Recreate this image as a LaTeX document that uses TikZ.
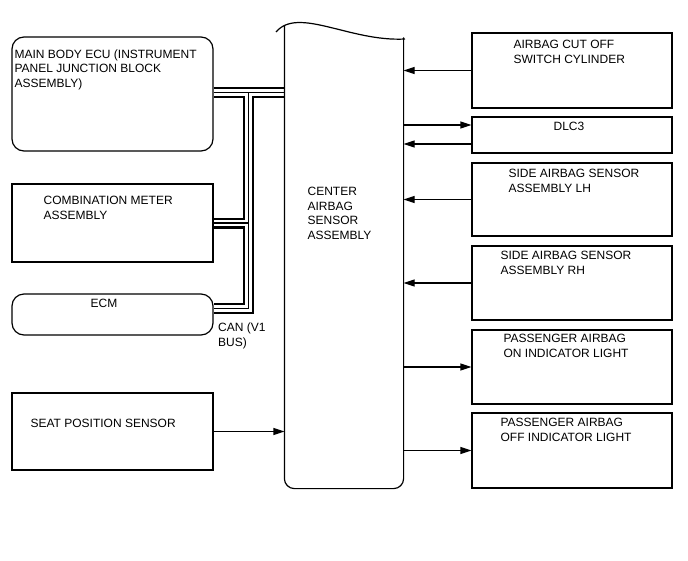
\documentclass[tikz,border=0pt]{standalone}
\usepackage{fontspec}
\setmainfont{Liberation Sans}
\usetikzlibrary{arrows.meta,positioning,backgrounds}
\tikzset{
  unitbox/.style={draw, line width=1.2pt, minimum width=201pt, inner sep=0pt},
  roundbox/.style={unitbox, rounded corners=12pt},
  lbl/.style={anchor=north west, inner sep=0pt, align=left, font=\fontsize{12}{14.5}\selectfont},
  sig/.style={line width=1.2pt, -{Triangle[length=11pt,width=7pt]}},
}
\begin{document}
\begin{tikzpicture}[x=1pt, y=-1pt, line width=1.2pt]
                \useasboundingbox (0,0) rectangle (688,560);
                % left units
                \node[roundbox, minimum height=114pt] (main) at (112.5,94) {};
                \node[unitbox, minimum height=78pt] (comb) at (112.5,223) {};
                \node[roundbox, minimum height=41pt] (ecm) at (112.5,314.5) {};
                \node[unitbox, minimum height=77pt] (seat) at (112.5,431.5) {};
                \node[lbl] (mainlbl) at (14,49) {MAIN BODY ECU (INSTRUMENT\\PANEL JUNCTION BLOCK\\ASSEMBLY)};
                \node[lbl] (comblbl) at (43,196) {COMBINATION METER\\ASSEMBLY};
                \node[lbl] (ecmlbl) at (90,299) {ECM};
                \node[lbl] (seatlbl) at (30,419) {SEAT POSITION SENSOR};
                % center unit
                \node[minimum width=118pt, minimum height=462pt, inner sep=0pt] (sensor) at (344,257) {};
                \draw[rounded corners=10pt] (sensor.north west) -- (sensor.south west) -- (sensor.south east) -- ([yshift=-12pt]sensor.north east);
                \draw (276,32) .. controls (298,6) and (350,42) .. (405,39);
                \node[lbl] (sensorlbl) at (307,187) {CENTER\\AIRBAG\\SENSOR\\ASSEMBLY};
                % right units
                \node[unitbox, minimum width=200pt, minimum height=75pt] (cut) at (572,70.5) {};
                \node[unitbox, minimum width=200pt, minimum height=36pt] (dlc) at (572,135) {};
                \node[unitbox, minimum width=200pt, minimum height=73pt] (lh) at (572,199.5) {};
                \node[unitbox, minimum width=200pt, minimum height=74pt] (rh) at (572,283) {};
                \node[unitbox, minimum width=200pt, minimum height=74pt] (onlamp) at (572,367) {};
                \node[unitbox, minimum width=200pt, minimum height=75pt] (offlamp) at (572,450.5) {};
                \node[lbl] (cutlbl) at (513,40) {AIRBAG CUT OFF\\SWITCH CYLINDER};
                \node[lbl] (dlclbl) at (553,122) {DLC3};
                \node[lbl] (lhlbl) at (508,169) {SIDE AIRBAG SENSOR\\ASSEMBLY LH};
                \node[lbl] (rhlbl) at (500,251) {SIDE AIRBAG SENSOR\\ASSEMBLY RH};
                \node[lbl] (onlbl) at (503,334) {PASSENGER AIRBAG\\ON INDICATOR LIGHT};
                \node[lbl] (offlbl) at (500,418) {PASSENGER AIRBAG\\OFF INDICATOR LIGHT};
                % signals
                \draw[sig] (cut.west) -- (cut.west -| sensor.east);
                \draw[sig] ([yshift=10pt]dlc.west -| sensor.east) -- ([yshift=10pt]dlc.west);
                \draw[sig] ([yshift=-9pt]dlc.west) -- ([yshift=-9pt]dlc.west -| sensor.east);
                \draw[sig] (lh.west) -- (lh.west -| sensor.east);
                \draw[sig] (rh.west) -- (rh.west -| sensor.east);
                \draw[sig] (onlamp.west -| sensor.east) -- (onlamp.west);
                \draw[sig] (offlamp.west -| sensor.east) -- (offlamp.west);
                \draw[sig] (seat.east) -- (seat.east -| sensor.west);
                % CAN bus
                \coordinate (busT) at (248.5,92.5);
                \coordinate (busC) at (comb.east -| busT);
                \coordinate (busE) at ([yshift=6pt]ecm.east -| busT);
                \begin{pgfonlayer}{background}
                \foreach \w/\c in {11pt/black, 6.6pt/white, 1.2pt/black}
                    \draw[line width=\w, draw=\c, line join=miter] ([yshift=1.5pt]main.east) -- ([yshift=1.5pt]main.east -| sensor.west)
                        (busT) -- (busC) -- (comb.east)
                        (busC) -- (busE) -- ([yshift=6pt]ecm.east);
                \end{pgfonlayer}
                \node[lbl] (canlbl) at (218,323) {CAN (V1\\BUS)};
            \end{tikzpicture}
\end{document}
